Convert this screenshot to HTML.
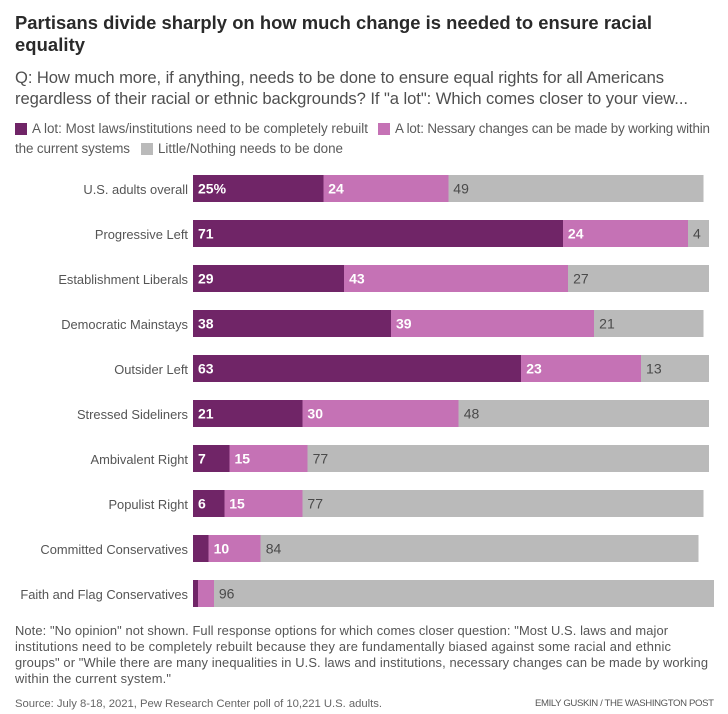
<!DOCTYPE html>
<html lang="en">
<head>
<meta charset="utf-8">
<title>Partisans divide sharply on how much change is needed</title>
<style>
html,body{margin:0;padding:0;background:#fff;width:728px;height:714px;overflow:hidden}
svg{display:block}
text{font-family:"Liberation Sans",sans-serif}
.title{font-size:18.4px;font-weight:700;fill:#2a2a2a}
.sub{font-size:16.6px;fill:#4f4f4f}
.leg{font-size:13.4px;fill:#5a5a5a}
.cat{font-size:12.9px;fill:#555;text-anchor:end}
.val{font-size:14px}
.note{font-size:12.9px;fill:#555}
.src{font-size:11.3px;fill:#666}
.by{font-size:9.6px;fill:#555}
</style>
</head>
<body>
<svg id="chart" width="728" height="714" viewBox="0 0 728 714" xmlns="http://www.w3.org/2000/svg">
  <g>
    <text class="title" x="15" y="29" textLength="637" lengthAdjust="spacing">Partisans divide sharply on how much change is needed to ensure racial</text>
    <text class="title" x="15" y="51" textLength="70" lengthAdjust="spacing">equality</text>
  </g>
  <g>
    <text class="sub" x="15" y="83" textLength="649" lengthAdjust="spacing">Q: How much more, if anything, needs to be done to ensure equal rights for all Americans</text>
    <text class="sub" x="15" y="104" textLength="673" lengthAdjust="spacing">regardless of their racial or ethnic backgrounds? If "a lot": Which comes closer to your view...</text>
  </g>
  <g>
    <g>
      <rect x="15" y="123" width="12" height="12" fill="#702567"/>
      <text class="leg" x="32" y="133" textLength="336" lengthAdjust="spacing">A lot: Most laws/institutions need to be completely rebuilt</text>
    </g>
    <g>
      <rect x="378" y="123" width="12" height="12" fill="#c572b5"/>
      <text class="leg" x="395" y="133" textLength="315" lengthAdjust="spacing">A lot: Nessary changes can be made by working within</text>
      <text class="leg" x="15" y="153" textLength="115" lengthAdjust="spacing">the current systems</text>
    </g>
    <g>
      <rect x="141" y="143" width="12" height="12" fill="#bababa"/>
      <text class="leg" x="158" y="153" textLength="185" lengthAdjust="spacing">Little/Nothing needs to be done</text>
    </g>
  </g>
  <g id="plot"></g>
  <g>
    <text class="note" x="15" y="635" textLength="653" lengthAdjust="spacing">Note: "No opinion" not shown. Full response options for which comes closer question: "Most U.S. laws and major</text>
    <text class="note" x="15" y="651" textLength="656" lengthAdjust="spacing">institutions need to be completely rebuilt because they are fundamentally biased against some racial and ethnic</text>
    <text class="note" x="15" y="667" textLength="693" lengthAdjust="spacing">groups" or "While there are many inequalities in U.S. laws and institutions, necessary changes can be made by working</text>
    <text class="note" x="15" y="683" textLength="156" lengthAdjust="spacing">within the current system."</text>
  </g>
  <text class="src" x="15" y="707" textLength="367" lengthAdjust="spacing">Source: July 8-18, 2021, Pew Research Center poll of 10,221 U.S. adults.</text>
  <text class="by" x="535" y="706" textLength="179" lengthAdjust="spacing">EMILY GUSKIN / THE WASHINGTON POST</text>
</svg>
<script>
const categories = ["U.S. adults overall","Progressive Left","Establishment Liberals","Democratic Mainstays","Outsider Left","Stressed Sideliners","Ambivalent Right","Populist Right","Committed Conservatives","Faith and Flag Conservatives"];
const rebuilt = [25,71,29,38,63,21,7,6,3,1];
const withinSystems = [24,24,43,39,23,30,15,15,10,3];
const littleNothing = [49,4,27,21,13,48,77,77,84,96];

const NS = 'http://www.w3.org/2000/svg';
const plot = document.getElementById('plot');
const x0 = 193, unit = 5.21, top0 = 175, step = 45, barH = 27;
const xScale = function (v) { return x0 + v * unit; };
const yScale = function (i) { return top0 + i * step; };
const seriesList = [
  { key: 'rebuilt', values: rebuilt, fill: '#702567', textFill: '#fff', weight: 700 },
  { key: 'within-systems', values: withinSystems, fill: '#c572b5', textFill: '#fff', weight: 700 },
  { key: 'little-nothing', values: littleNothing, fill: '#bababa', textFill: '#4a4a4a', weight: 400 }
];

categories.forEach(function (cat, i) {
  const y = yScale(i);
  const label = document.createElementNS(NS, 'text');
  
  
  label.setAttribute('class', 'cat');
  label.setAttribute('x', 188);
  label.setAttribute('y', y + 19);
  label.textContent = cat;
  plot.appendChild(label);

  let cum = 0;
  seriesList.forEach(function (s, j) {
    const v = s.values[i];
    const rect = document.createElementNS(NS, 'rect');
    
    
    rect.setAttribute('x', xScale(cum));
    rect.setAttribute('y', y);
    rect.setAttribute('width', v * unit);
    rect.setAttribute('height', barH);
    rect.setAttribute('fill', s.fill);
    rect.setAttribute('shape-rendering', 'crispEdges');
    plot.appendChild(rect);

    if (v >= 4) {
      const t = document.createElementNS(NS, 'text');
      
      
      t.setAttribute('class', 'val');
      t.setAttribute('x', xScale(cum) + 5);
      t.setAttribute('y', y + 18.5);
      t.setAttribute('fill', s.textFill);
      t.setAttribute('font-weight', s.weight);
      t.textContent = (i === 0 && j === 0) ? v + '%' : String(v);
      plot.appendChild(t);
    }
    cum += v;
  });
});
</script>
</body>
</html>
